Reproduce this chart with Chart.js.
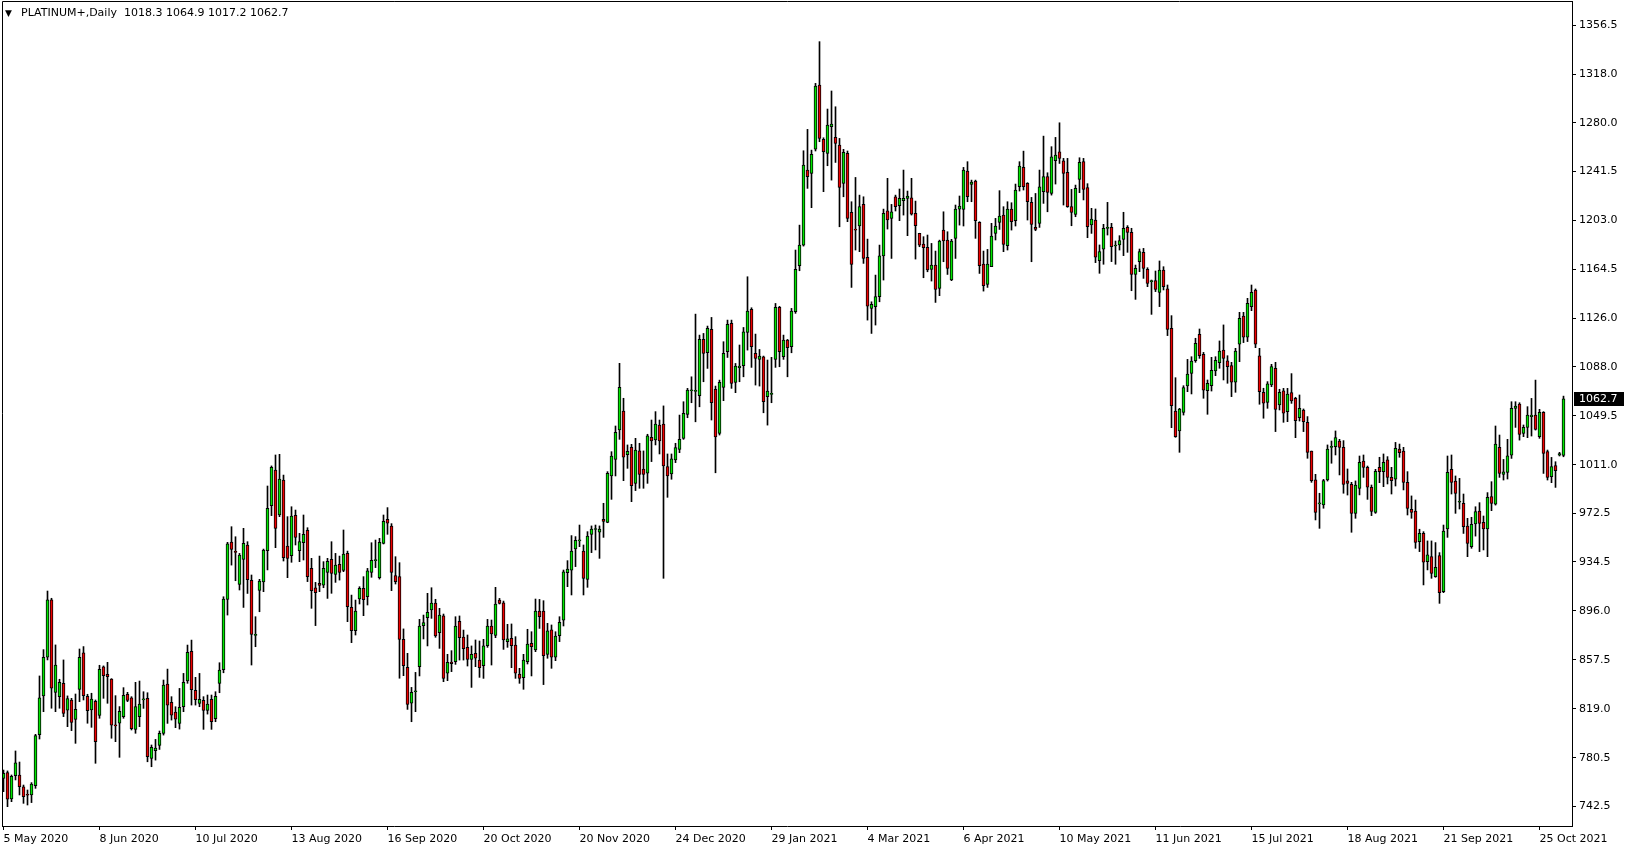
<!DOCTYPE html>
<html>
<head>
<meta charset="utf-8">
<title>PLATINUM+ Daily</title>
<script src="https://cdn.jsdelivr.net/npm/chart.js@4.4.1/dist/chart.umd.min.js"></script>
<style>
    html, body { margin: 0; padding: 0; background: #fff; }
    #wrap { position: relative; width: 1629px; height: 850px; }
    #priceChart { display: block; }
    #header {
        position: absolute; left: 5px; top: 6px;
        font: 11px "DejaVu Sans", sans-serif; line-height: 13px;
        color: #000; white-space: pre;
    }
    #header .arrow { display: inline-block; width: 16px; font-size: 9px; }
</style>
</head>
<body>
<div id="wrap">
    <canvas id="priceChart" width="1629" height="850"></canvas>
    <div id="header"><span class="arrow">▼</span><span id="headerText"></span></div>
</div>
<script>
//
// ================= DATA =================
//
const symbolName = "PLATINUM+,Daily";

const opens = [
    764.3, 768.8, 748.0, 766.4, 766.9, 757.5, 751.2, 751.2, 758.5, 798.6,
    829.1, 859.5, 904.6, 831.9, 828.5, 839.0, 817.8, 825.9, 810.7, 834.3,
    862.9, 828.8, 818.0, 824.9, 813.8, 851.9, 846.1, 842.4, 806.0, 807.6,
    812.8, 830.4, 827.5, 802.8, 812.7, 826.0, 827.2, 780.0, 786.0, 790.2,
    799.6, 838.4, 824.0, 816.4, 807.5, 820.6, 840.8, 864.1, 833.5, 823.2,
    825.6, 817.7, 826.4, 811.2, 839.0, 849.7, 905.0, 950.1, 942.3, 916.8,
    936.5, 947.8, 920.0, 876.7, 912.1, 918.7, 943.3, 978.7, 1006.8, 971.4,
    998.9, 947.0, 939.4, 971.1, 943.3, 949.6, 959.3, 929.4, 914.2, 917.6,
    916.3, 926.3, 936.5, 924.7, 932.6, 927.9, 941.2, 898.7, 880.4, 905.3,
    913.7, 907.2, 926.3, 935.5, 922.1, 949.1, 968.0, 962.7, 923.7, 922.9,
    873.6, 851.6, 823.3, 832.4, 852.1, 884.3, 890.6, 896.7, 902.2, 878.8,
    892.0, 846.9, 855.8, 856.0, 887.8, 875.4, 867.3, 857.9, 862.6, 857.3,
    852.9, 868.6, 884.1, 876.7, 904.5, 902.4, 871.8, 874.4, 869.1, 846.3,
    843.4, 856.0, 870.4, 865.2, 895.9, 895.9, 861.8, 881.0, 859.5, 876.5,
    888.6, 926.1, 928.1, 944.7, 951.0, 943.1, 920.8, 956.2, 960.0, 957.8,
    968.0, 965.6, 1002.1, 1015.2, 1038.3, 1053.2, 1018.9, 1024.6, 996.3, 1021.8,
    1007.6, 1004.2, 1032.5, 1030.4, 1042.2, 1043.0, 1009.4, 1003.7, 1014.7, 1023.0,
    1031.6, 1050.5, 1069.1, 1068.6, 1065.2, 1109.5, 1099.0, 1117.4, 1070.2, 1035.6,
    1071.8, 1099.8, 1122.1, 1075.7, 1087.2, 1088.8, 1115.0, 1133.1, 1098.5, 1093.8,
    1095.9, 1064.4, 1066.3, 1093.8, 1134.7, 1095.9, 1109.0, 1103.7, 1131.3, 1167.5,
    1183.7, 1242.7, 1240.1, 1259.2, 1309.6, 1266.8, 1255.8, 1276.8, 1268.4, 1262.4,
    1232.2, 1255.8, 1209.4, 1195.8, 1198.7, 1215.7, 1174.0, 1133.9, 1135.2, 1143.1,
    1175.1, 1210.7, 1204.7, 1221.7, 1214.7, 1218.6, 1220.4, 1220.9, 1208.6, 1192.9,
    1184.5, 1181.9, 1164.6, 1168.0, 1149.6, 1195.5, 1187.6, 1156.2, 1189.0, 1212.0,
    1211.8, 1241.9, 1231.4, 1234.1, 1201.5, 1168.8, 1152.8, 1166.7, 1192.9, 1201.5,
    1207.3, 1183.2, 1212.0, 1202.9, 1229.6, 1244.8, 1232.2, 1217.3, 1197.6, 1200.8,
    1225.7, 1237.5, 1224.3, 1250.0, 1257.1, 1250.0, 1240.9, 1213.9, 1207.8, 1235.4,
    1249.3, 1229.0, 1199.5, 1203.4, 1171.4, 1180.4, 1196.9, 1197.7, 1183.0, 1183.8,
    1188.2, 1197.7, 1193.7, 1160.7, 1170.7, 1178.0, 1164.6, 1154.9, 1155.7, 1146.5,
    1164.1, 1149.2, 1118.2, 1053.2, 1037.5, 1052.1, 1072.9, 1082.8, 1092.8, 1113.5,
    1097.8, 1069.2, 1073.1, 1084.7, 1091.2, 1101.2, 1092.6, 1088.9, 1075.8, 1105.7,
    1127.9, 1111.2, 1135.3, 1148.4, 1096.5, 1067.9, 1060.0, 1073.7, 1086.8, 1057.9,
    1069.0, 1052.7, 1067.6, 1063.2, 1048.0, 1054.0, 1044.3, 1021.7, 999.0, 980.1,
    979.3, 998.9, 1024.6, 1025.2, 1029.6, 1024.6, 998.2, 995.5, 972.7, 992.4,
    1013.9, 1008.9, 993.2, 973.5, 1008.9, 1005.5, 1014.7, 1001.0, 999.5, 1023.3,
    1021.7, 997.1, 975.9, 974.5, 950.4, 957.0, 934.7, 938.6, 922.9, 939.4,
    911.1, 960.4, 1007.3, 998.1, 981.4, 980.6, 962.7, 946.5, 964.3, 974.5,
    965.6, 960.4, 985.8, 980.0, 1024.6, 1003.3, 1004.9, 1018.5, 1055.2, 1058.7,
    1035.6, 1040.3, 1048.7, 1050.0, 1033.0, 1052.1, 1021.2, 1001.5, 1010.2, 1018.5,
    1018.3
];

const highs = [
    770.8, 770.1, 766.9, 785.8, 777.1, 759.0, 755.1, 760.9, 798.9, 844.8,
    865.5, 911.6, 905.9, 869.2, 842.2, 857.4, 829.1, 827.2, 830.6, 866.0,
    867.9, 830.4, 831.2, 825.9, 853.2, 852.7, 855.5, 842.7, 829.3, 820.7,
    835.6, 831.9, 828.5, 839.8, 840.8, 832.4, 831.6, 790.5, 794.9, 801.5,
    841.6, 850.2, 828.5, 820.6, 835.0, 846.8, 869.1, 873.0, 843.7, 846.8,
    828.5, 829.8, 829.8, 832.4, 855.2, 907.1, 949.9, 962.2, 954.3, 941.2,
    960.9, 950.4, 924.2, 891.4, 920.8, 944.6, 994.2, 1010.0, 1018.6, 1019.1,
    1002.8, 970.1, 977.9, 975.3, 957.0, 971.4, 961.4, 937.3, 918.4, 939.1,
    934.7, 937.3, 950.4, 941.2, 939.1, 959.6, 943.0, 908.4, 904.5, 915.0,
    922.9, 929.4, 949.6, 951.7, 953.0, 971.4, 977.2, 964.6, 938.6, 933.9,
    881.8, 862.6, 835.8, 847.6, 889.3, 892.7, 909.8, 914.2, 905.1, 898.0,
    893.5, 861.8, 864.7, 891.4, 892.0, 880.9, 877.0, 868.4, 873.1, 872.3,
    873.6, 889.3, 888.8, 914.5, 905.8, 903.7, 885.4, 885.7, 875.7, 850.8,
    861.8, 881.5, 879.6, 905.3, 905.0, 904.0, 886.2, 884.9, 879.6, 891.4,
    928.1, 935.5, 955.2, 954.4, 963.5, 947.8, 958.3, 962.8, 963.5, 962.8,
    980.6, 1005.5, 1021.2, 1041.4, 1090.7, 1063.2, 1026.5, 1027.0, 1031.7, 1027.8,
    1021.8, 1034.9, 1046.1, 1052.7, 1046.1, 1057.2, 1019.4, 1019.4, 1027.8, 1050.0,
    1060.5, 1071.0, 1080.1, 1129.4, 1112.9, 1114.2, 1120.0, 1126.8, 1072.8, 1077.5,
    1107.7, 1124.7, 1124.7, 1090.6, 1105.1, 1118.9, 1158.8, 1134.4, 1113.7, 1101.6,
    1096.4, 1093.3, 1095.4, 1137.8, 1135.5, 1112.9, 1109.5, 1133.9, 1179.8, 1199.4,
    1257.9, 1274.7, 1258.4, 1310.9, 1343.7, 1268.1, 1290.7, 1304.9, 1292.5, 1267.6,
    1259.0, 1257.7, 1217.8, 1236.9, 1223.0, 1221.7, 1188.4, 1139.1, 1160.1, 1183.7,
    1212.0, 1236.2, 1215.7, 1223.0, 1227.8, 1242.7, 1226.2, 1236.2, 1218.3, 1193.0,
    1190.3, 1191.6, 1185.0, 1179.0, 1187.6, 1209.9, 1194.2, 1188.2, 1215.2, 1222.3,
    1244.8, 1249.3, 1234.8, 1234.8, 1202.1, 1179.0, 1180.3, 1200.8, 1204.7, 1226.5,
    1213.9, 1217.8, 1217.0, 1231.7, 1249.3, 1257.6, 1232.8, 1221.2, 1224.3, 1242.7,
    1269.4, 1240.6, 1261.1, 1268.4, 1279.9, 1251.9, 1251.9, 1227.5, 1230.9, 1252.4,
    1251.9, 1232.0, 1212.6, 1212.1, 1183.8, 1200.0, 1217.3, 1200.8, 1186.9, 1191.1,
    1209.5, 1199.0, 1196.9, 1168.0, 1180.6, 1181.1, 1165.9, 1156.2, 1163.3, 1171.2,
    1166.7, 1152.3, 1128.2, 1079.4, 1055.3, 1073.1, 1093.8, 1095.9, 1110.4, 1117.7,
    1099.3, 1077.6, 1095.4, 1095.9, 1108.3, 1120.9, 1096.7, 1091.5, 1102.5, 1130.8,
    1130.8, 1141.8, 1152.3, 1149.2, 1102.5, 1071.1, 1076.3, 1089.9, 1091.5, 1070.3,
    1071.0, 1071.0, 1082.6, 1064.0, 1065.8, 1054.8, 1048.8, 1021.7, 1003.4, 988.5,
    999.4, 1026.5, 1029.6, 1037.5, 1030.9, 1029.9, 1007.6, 997.1, 998.2, 1017.8,
    1018.6, 1009.9, 995.0, 1007.3, 1016.8, 1019.4, 1017.3, 1008.9, 1028.5, 1027.2,
    1024.6, 1005.5, 986.4, 983.2, 960.2, 958.3, 951.0, 951.0, 949.7, 941.8,
    963.5, 1017.8, 1018.6, 1002.1, 1000.2, 987.9, 968.8, 969.6, 977.9, 981.1,
    970.6, 989.0, 997.6, 1041.4, 1034.3, 1015.1, 1030.9, 1060.5, 1060.5, 1059.7,
    1042.2, 1056.6, 1063.1, 1077.5, 1054.5, 1052.7, 1022.5, 1016.7, 1013.3, 1020.7,
    1064.9
];

const lows = [
    753.8, 742.0, 745.9, 763.0, 751.2, 744.6, 743.3, 745.2, 756.4, 795.2,
    816.7, 857.4, 819.4, 816.7, 819.4, 812.8, 804.9, 801.8, 791.8, 824.6,
    825.9, 807.6, 804.4, 776.1, 811.5, 827.2, 823.3, 795.8, 793.1, 780.8,
    811.5, 824.6, 802.3, 799.7, 804.9, 819.3, 777.3, 773.4, 778.6, 787.0,
    798.3, 807.5, 810.1, 804.1, 803.0, 816.7, 839.0, 821.9, 821.9, 820.6,
    802.8, 814.8, 802.8, 808.8, 831.6, 847.3, 892.7, 932.0, 919.7, 912.4,
    898.7, 909.7, 853.4, 867.8, 895.3, 911.1, 928.2, 970.9, 945.7, 970.1,
    935.2, 922.1, 934.2, 947.8, 934.7, 936.0, 919.0, 898.0, 884.4, 911.1,
    914.2, 905.8, 909.8, 918.4, 920.2, 926.8, 887.5, 871.0, 877.0, 901.4,
    892.2, 900.6, 922.4, 930.0, 921.0, 948.6, 956.2, 911.9, 917.1, 843.0,
    845.0, 818.5, 808.8, 816.7, 844.8, 873.9, 868.4, 890.1, 875.2, 866.5,
    840.3, 841.1, 848.2, 853.9, 857.3, 857.3, 852.6, 835.8, 852.1, 843.7,
    842.9, 867.3, 853.4, 874.9, 901.4, 865.7, 867.3, 851.3, 842.9, 839.0,
    834.3, 854.2, 844.8, 863.9, 882.2, 838.0, 858.7, 850.8, 856.8, 871.8,
    884.1, 915.0, 908.5, 930.8, 946.5, 908.5, 914.5, 941.8, 943.9, 937.3,
    953.8, 965.3, 983.7, 1002.1, 1030.9, 998.4, 1008.1, 981.9, 990.6, 992.4,
    992.4, 996.3, 1013.4, 1026.5, 1019.4, 921.6, 985.3, 999.5, 1012.6, 1020.4,
    1030.9, 1047.9, 1059.7, 1044.7, 1056.5, 1076.2, 1086.7, 1046.1, 1004.6, 1034.3,
    1061.3, 1095.3, 1071.0, 1067.6, 1076.2, 1080.1, 1101.1, 1087.5, 1073.6, 1072.8,
    1051.8, 1042.1, 1059.7, 1087.5, 1088.0, 1093.8, 1080.1, 1099.0, 1130.0, 1163.5,
    1182.9, 1228.3, 1213.1, 1257.7, 1265.0, 1225.7, 1246.1, 1234.8, 1248.7, 1198.1,
    1221.7, 1202.1, 1150.4, 1179.8, 1178.5, 1169.3, 1124.7, 1114.2, 1120.8, 1139.1,
    1156.2, 1196.3, 1173.2, 1210.5, 1202.9, 1207.3, 1191.1, 1207.3, 1172.7, 1182.4,
    1158.0, 1162.7, 1155.4, 1138.6, 1143.9, 1170.6, 1160.6, 1155.7, 1173.2, 1199.4,
    1198.7, 1217.8, 1217.8, 1189.0, 1161.4, 1147.5, 1150.4, 1166.7, 1187.7, 1196.0,
    1178.5, 1179.8, 1195.5, 1198.7, 1226.2, 1227.0, 1203.4, 1170.6, 1195.0, 1197.6,
    1216.5, 1209.9, 1223.0, 1231.7, 1247.9, 1215.2, 1213.4, 1198.9, 1206.0, 1224.9,
    1219.2, 1189.5, 1192.9, 1169.9, 1161.5, 1168.6, 1191.6, 1170.7, 1168.6, 1179.8,
    1175.4, 1178.0, 1147.8, 1141.0, 1162.8, 1157.5, 1151.0, 1129.2, 1147.1, 1135.3,
    1148.4, 1112.5, 1040.1, 1032.5, 1020.7, 1050.0, 1068.4, 1066.6, 1091.5, 1094.6,
    1063.2, 1050.6, 1068.9, 1081.0, 1086.8, 1077.6, 1075.0, 1064.5, 1067.9, 1092.0,
    1107.0, 1107.8, 1132.1, 1103.0, 1058.5, 1047.5, 1055.3, 1072.3, 1037.0, 1054.0,
    1044.3, 1044.8, 1059.2, 1032.2, 1045.3, 1037.0, 1016.0, 997.1, 967.5, 960.9,
    976.7, 998.1, 1012.1, 1018.6, 1002.9, 988.5, 987.1, 957.8, 968.8, 987.2,
    1001.0, 983.7, 970.9, 972.7, 996.8, 993.7, 995.8, 987.9, 994.2, 1016.8,
    991.1, 971.4, 968.8, 945.2, 942.6, 916.4, 928.2, 921.6, 922.4, 901.9,
    910.3, 953.8, 987.9, 972.7, 976.1, 956.9, 938.6, 945.2, 954.8, 942.6,
    943.9, 938.6, 974.8, 979.2, 1001.0, 998.9, 999.7, 1015.9, 1040.3, 1030.3,
    1033.0, 1032.2, 1033.5, 1038.2, 1031.7, 1004.1, 998.9, 996.8, 993.1, 1017.8,
    1017.2
];

const closes = [
    768.2, 747.8, 765.9, 776.4, 757.7, 749.9, 751.0, 759.8, 797.9, 827.5,
    859.5, 904.6, 835.1, 853.4, 839.8, 815.4, 827.0, 808.3, 818.6, 859.5,
    829.3, 817.5, 826.7, 793.1, 850.0, 845.0, 844.3, 806.0, 805.5, 817.0,
    829.6, 825.6, 803.4, 820.7, 822.7, 826.8, 781.3, 788.6, 788.1, 799.6,
    837.6, 821.9, 814.0, 810.9, 820.1, 839.7, 863.3, 834.0, 826.1, 826.4,
    817.7, 822.7, 808.8, 828.7, 849.4, 905.3, 948.8, 944.4, 942.0, 939.9,
    949.1, 920.5, 877.5, 876.9, 919.5, 943.8, 976.6, 1008.9, 960.9, 999.7,
    937.8, 937.3, 970.6, 953.8, 950.4, 956.2, 922.9, 911.9, 910.3, 916.1,
    929.4, 935.0, 925.5, 932.0, 926.3, 940.7, 899.3, 880.4, 895.9, 913.7,
    904.8, 927.4, 935.8, 935.8, 949.9, 966.4, 964.9, 926.3, 919.0, 873.6,
    852.9, 822.5, 831.9, 832.6, 884.1, 886.7, 894.8, 902.2, 876.2, 892.7,
    842.9, 855.5, 854.5, 884.1, 874.9, 866.3, 857.9, 861.8, 858.7, 851.3,
    868.4, 884.1, 877.8, 901.4, 901.9, 873.1, 873.9, 868.6, 846.9, 842.9,
    857.3, 869.9, 867.8, 895.9, 891.4, 860.7, 880.2, 859.5, 876.2, 887.0,
    926.6, 928.9, 943.1, 951.5, 951.4, 921.6, 954.9, 960.4, 960.2, 960.4,
    966.4, 1004.2, 1017.8, 1036.4, 1071.8, 1016.8, 1021.5, 994.5, 1022.5, 1003.4,
    1003.4, 1033.6, 1029.6, 1043.0, 1029.6, 1010.0, 1002.1, 1015.5, 1024.4, 1030.9,
    1051.3, 1069.7, 1069.3, 1068.8, 1109.5, 1098.5, 1118.2, 1059.7, 1032.9, 1075.7,
    1098.5, 1121.3, 1074.9, 1088.5, 1088.5, 1115.5, 1131.8, 1103.7, 1094.6, 1096.4,
    1060.5, 1068.9, 1066.5, 1134.7, 1099.8, 1109.0, 1103.0, 1131.8, 1164.6, 1183.7,
    1246.6, 1237.5, 1255.0, 1308.8, 1267.6, 1257.1, 1278.1, 1278.9, 1263.7, 1229.1,
    1256.6, 1204.7, 1168.5, 1195.5, 1213.9, 1173.2, 1135.7, 1137.0, 1143.1, 1175.3,
    1208.6, 1203.4, 1209.9, 1213.9, 1220.4, 1220.4, 1222.3, 1208.1, 1198.9, 1183.7,
    1181.6, 1164.1, 1168.0, 1148.8, 1186.9, 1186.9, 1165.4, 1186.9, 1212.0, 1214.4,
    1242.7, 1221.7, 1233.3, 1202.9, 1167.5, 1151.7, 1168.8, 1190.8, 1198.7, 1206.5,
    1184.2, 1212.0, 1202.1, 1227.0, 1245.9, 1229.6, 1217.8, 1200.0, 1196.0, 1229.6,
    1237.5, 1225.1, 1253.2, 1254.5, 1251.9, 1240.1, 1213.9, 1209.4, 1228.3, 1248.7,
    1227.5, 1198.2, 1204.2, 1174.1, 1178.5, 1196.9, 1197.1, 1182.5, 1183.2, 1187.2,
    1196.9, 1193.7, 1160.7, 1165.4, 1178.5, 1165.4, 1153.6, 1155.1, 1148.9, 1164.1,
    1151.0, 1117.4, 1057.4, 1033.0, 1054.8, 1071.6, 1082.3, 1092.5, 1106.4, 1096.7,
    1069.5, 1075.0, 1085.2, 1093.0, 1100.4, 1094.6, 1088.1, 1075.8, 1100.4, 1126.1,
    1111.2, 1137.9, 1146.6, 1105.7, 1068.4, 1059.3, 1074.5, 1088.1, 1054.5, 1067.9,
    1051.4, 1066.6, 1061.1, 1045.6, 1055.3, 1044.8, 1020.7, 998.4, 973.5, 980.3,
    998.4, 1023.3, 1024.8, 1032.2, 1024.6, 995.5, 996.3, 972.7, 995.0, 1012.9,
    1008.9, 993.2, 974.3, 1005.8, 1005.5, 1012.8, 1001.0, 998.4, 1023.8, 1020.4,
    997.1, 976.6, 973.5, 949.9, 957.0, 934.2, 940.0, 925.5, 930.3, 910.3,
    958.8, 1004.9, 997.1, 988.4, 981.6, 962.2, 949.1, 964.0, 974.0, 964.8,
    960.4, 985.3, 980.5, 1027.2, 1004.1, 1005.4, 1018.0, 1055.2, 1057.1, 1034.8,
    1040.3, 1050.0, 1050.0, 1038.7, 1052.1, 1019.8, 1001.0, 1009.4, 1006.3, 1019.8,
    1062.7
];

// date labels shown under the chart, one every 24 bars
const dateLabels = [
    "5 May 2020", "8 Jun 2020", "10 Jul 2020", "13 Aug 2020", "16 Sep 2020",
    "20 Oct 2020", "20 Nov 2020", "24 Dec 2020", "29 Jan 2021", "4 Mar 2021",
    "6 Apr 2021", "10 May 2021", "11 Jun 2021", "15 Jul 2021", "18 Aug 2021",
    "21 Sep 2021", "25 Oct 2021"
];
const dateTickIdx = [0, 24, 48, 72, 96, 120, 144, 168, 192, 216, 240, 264, 288, 312, 336, 360, 384];

const priceTicks = [
    742.5, 780.5, 819.0, 857.5, 896.0, 934.5, 972.5, 1011.0, 1049.5,
    1088.0, 1126.0, 1164.5, 1203.0, 1241.5, 1280.0, 1318.0, 1356.5
];

//
// ================= STYLE =================
//
const BULL = "#00e600";
const BEAR = "#ee0000";
const FONT = { family: "'DejaVu Sans', sans-serif", size: 11 };

const lastIdx = closes.length - 1;

document.getElementById("headerText").textContent =
    `${symbolName}  ${opens[lastIdx].toFixed(1)} ${highs[lastIdx].toFixed(1)} ` +
    `${lows[lastIdx].toFixed(1)} ${closes[lastIdx].toFixed(1)}`;

const bodyData = opens.map((o, i) => ({ x: i, y: [o, closes[i]] }));
const wickData = lows.map((l, i) => ({ x: i, y: [l, highs[i]] }));
const bodyColors = opens.map((o, i) => (closes[i] >= o ? BULL : BEAR));

//
// ================= OVERLAY: frame + last price tag =================
//
const overlayPlugin = {
    id: "overlay",
    afterDraw(chart) {
        const { ctx, chartArea, scales } = chart;
        ctx.save();

        ctx.strokeStyle = "#000";
        ctx.lineWidth = 1;
        ctx.beginPath();
        ctx.moveTo(chartArea.left + 0.5, chartArea.bottom);
        ctx.lineTo(chartArea.left + 0.5, chartArea.top + 0.5);
        ctx.lineTo(chartArea.right, chartArea.top + 0.5);
        ctx.stroke();

        const py = Math.round(scales.y.getPixelForValue(closes[lastIdx]));
        ctx.fillStyle = "#000";
        ctx.fillRect(chartArea.right + 2, py - 7, 50, 14);
        ctx.fillStyle = "#fff";
        ctx.font = "11px 'DejaVu Sans'";
        ctx.textBaseline = "middle";
        ctx.fillText(closes[lastIdx].toFixed(1), chartArea.right + 7, py + 0.5);

        ctx.restore();
    }
};

//
// ================= CHART =================
//
const ctx = document.getElementById("priceChart").getContext("2d");

new Chart(ctx, {
    type: "bar",
    data: {
        datasets: [
            {
                label: "Body",
                data: bodyData,
                backgroundColor: bodyColors,
                borderColor: "#000",
                borderWidth: 1,
                borderSkipped: false,
                barThickness: 3,
                minBarLength: 1,
                grouped: false,
                order: 0
            },
            {
                label: "Wick",
                data: wickData,
                backgroundColor: "#000",
                borderWidth: 0,
                barThickness: 1,
                grouped: false,
                order: 1
            }
        ]
    },
    options: {
        responsive: false,
        devicePixelRatio: 1,
        animation: false,
        layout: { padding: { left: 2, top: 1, right: 0, bottom: 0 } },
        plugins: {
            legend: { display: false },
            tooltip: { enabled: false }
        },
        scales: {
            x: {
                type: "linear",
                min: -0.375,
                max: 392.125,
                offset: false,
                afterBuildTicks: (scale) => {
                    scale.ticks = dateTickIdx.map(v => ({ value: v }));
                },
                afterFit: (scale) => {
                    scale.height = 24;
                    scale.paddingLeft = 0;
                    scale.paddingRight = 0;
                },
                grid: {
                    display: true,
                    offset: false,
                    drawOnChartArea: false,
                    drawTicks: true,
                    tickLength: 4,
                    color: "#000"
                },
                border: { display: true, color: "#000", width: 1 },
                ticks: {
                    autoSkip: false,
                    maxRotation: 0,
                    align: "start",
                    padding: 3,
                    color: "#000",
                    font: FONT,
                    callback: (value, index) => dateLabels[index]
                }
            },
            y: {
                type: "linear",
                position: "right",
                min: 726.78,
                max: 1375.68,
                afterBuildTicks: (scale) => {
                    scale.ticks = priceTicks.map(v => ({ value: v }));
                },
                afterFit: (scale) => {
                    // labels sit well inside the plot, no edge padding needed
                    scale.width = 57;
                    scale.paddingTop = 0;
                    scale.paddingBottom = 0;
                },
                grid: {
                    display: true,
                    drawOnChartArea: false,
                    drawTicks: true,
                    tickLength: 4,
                    color: "#000"
                },
                border: { display: true, color: "#000", width: 1 },
                ticks: {
                    padding: 3,
                    color: "#000",
                    font: FONT,
                    callback: (value) => Number(value).toFixed(1)
                }
            }
        }
    },
    plugins: [overlayPlugin]
});
</script>
</body>
</html>
